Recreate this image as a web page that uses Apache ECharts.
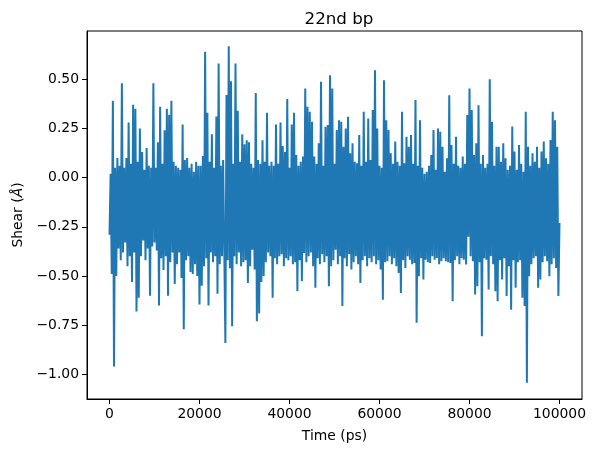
<!DOCTYPE html>
<html>
<head>
<meta charset="utf-8">
<script src="https://cdn.jsdelivr.net/npm/echarts@6/dist/echarts.min.js"></script>
<style>
  html, body { margin: 0; padding: 0; background: #fff; }
  #chart { width: 595px; height: 453px; }
</style>
</head>
<body>
<div id="chart"></div>
<script>
// shear of the 22nd base pair, one value every 250 ps, split per 10 ns
const dt = 250;
const shear00 = [-0.29, 0.02, -0.49, 0.39, -0.96, 0.05, -0.50, 0.10, -0.36, 0.06, -0.42, 0.48, -0.38, 0.05, -0.33, 0.10, -0.45, 0.28, -0.40, 0.07,
  -0.53, 0.37, -0.38, 0.35, -0.68, 0.08, -0.61, 0.25, -0.40, 0.13, -0.32, 0.04, -0.42, 0.15, -0.36, 0.06, -0.60, 0.05, -0.35, 0.48];
const shear10 = [-0.33, 0.05, -0.37, 0.18, -0.65, 0.36, -0.41, 0.07, -0.47, 0.24, -0.40, 0.35, -0.60, 0.32, -0.43, 0.39, -0.38, 0.08, -0.54, 0.06,
  -0.44, 0.05, -0.38, 0.04, -0.51, 0.27, -0.77, 0.09, -0.42, 0.10, -0.40, 0.05, -0.48, 0.07, -0.49, 0.03, -0.44, 0.08, -0.50, 0.06];
const shear20 = [-0.645, 0.06, -0.55, 0.11, -0.45, 0.64, -0.41, 0.33, -0.65, 0.08, -0.38, 0.22, -0.43, 0.05, -0.40, 0.31, -0.59, 0.58, -0.44, 0.06,
  -0.40, 0.09, -0.36, -0.84, 0.42, -0.42, 0.667, -0.46, 0.49, -0.755, 0.07, -0.40, 0.58, -0.44, 0.34, -0.38, 0.08, -0.45, 0.22, -0.43];
const shear30 = [0.17, -0.42, 0.19, -0.535, 0.18, -0.45, 0.07, -0.366, 0.05, -0.467, 0.43, -0.73, 0.09, -0.69, 0.07, -0.53, 0.19, -0.50, 0.08, -0.43,
  0.33, -0.38, 0.06, -0.40, 0.08, -0.61, 0.06, -0.41, 0.27, -0.44, 0.07, -0.40, 0.28, -0.39, 0.16, -0.45, 0.13, -0.41, 0.40, -0.42];
const shear40 = [0.05, -0.40, 0.27, -0.44, 0.33, -0.43, 0.115, -0.577, 0.06, -0.42, 0.08, -0.527, 0.107, -0.383, 0.453, -0.43, 0.36, -0.40, 0.335, -0.38,
  0.284, -0.45, 0.107, -0.56, 0.07, -0.41, 0.174, -0.44, 0.487, -0.39, 0.06, -0.43, 0.258, -0.40, 0.267, -0.552, 0.52, -0.451, 0.453, -0.42];
const shear50 = [0.07, -0.366, 0.242, -0.44, 0.292, -0.40, 0.284, -0.653, 0.157, -0.41, 0.25, -0.45, 0.309, -0.39, 0.124, -0.467, 0.174, -0.43, 0.08, -0.40,
  0.073, -0.44, 0.216, -0.535, 0.06, -0.42, 0.335, -0.40, 0.081, -0.45, 0.30, -0.41, 0.09, -0.43, 0.343, -0.40, 0.546, -0.44, 0.25, -0.42];
const shear60 = [0.06, -0.467, 0.05, -0.62, 0.495, -0.43, 0.292, -0.425, 0.242, -0.40, 0.124, -0.44, 0.07, -0.41, 0.183, -0.45, 0.08, -0.485, 0.06, -0.586,
  0.335, -0.42, 0.073, -0.459, 0.208, -0.40, 0.157, -0.417, 0.216, -0.44, 0.07, -0.434, 0.394, -0.738, 0.06, -0.501, 0.292, -0.41, 0.05, -0.518];
const shear70 = [0.02, -0.417, 0.03, -0.43, 0.06, -0.434, 0.115, -0.40, 0.242, -0.417, 0.04, -0.408, 0.25, -0.44, 0.233, -0.425, 0.157, -0.41, 0.03, -0.425,
  0.098, -0.43, 0.419, -0.434, 0.166, -0.628, 0.07, -0.42, 0.208, -0.40, 0.06, -0.44, 0.05, -0.41, 0.107, -0.417, 0.07, -0.442, 0.318, -0.30];
const shear80 = [0.453, -0.40, 0.343, -0.425, 0.115, -0.594, 0.174, -0.552, 0.368, -0.43, 0.07, -0.806, 0.115, -0.41, 0.05, -0.417, 0.07, -0.569, 0.50, -0.40,
  0.284, -0.44, 0.06, -0.577, 0.157, -0.628, 0.157, -0.42, 0.08, -0.518, 0.174, -0.41, 0.098, -0.602, 0.04, -0.45, 0.06, -0.671, 0.26, -0.42];
const shear90 = [0.132, -0.56, 0.04, -0.43, 0.166, -0.42, 0.07, -0.611, 0.03, -0.653, 0.335, -1.042, 0.157, -0.501, 0.06, -0.44, 0.124, -0.41, 0.08, -0.40,
  0.157, -0.56, 0.05, -0.518, 0.132, -0.43, 0.183, -0.40, 0.098, -0.425, 0.07, -0.501, 0.191, -0.44, 0.335, -0.41, 0.292, -0.459, 0.157, -0.602, -0.23];

const xTicks = [0, 20000, 40000, 60000, 80000, 100000];
const yTicks = [-1.0, -0.75, -0.5, -0.25, 0.0, 0.25, 0.5];

const shear = [].concat(shear00, shear10, shear20, shear30, shear40, shear50, shear60, shear70, shear80, shear90);
const points = shear.map((v, i) => [i * dt, v]);

const font = 'DejaVu Sans';
const chart = echarts.init(document.getElementById('chart'), null, { renderer: 'canvas' });
chart.setOption({
  animation: false,
  backgroundColor: '#fff',
  title: {
    text: '22nd bp',
    left: 334, top: 6, textAlign: 'center',
    textStyle: { fontFamily: font, fontSize: 16.7, fontWeight: 'normal', color: '#000' }
  },
  grid: {
    left: 87, right: 13, top: 31, bottom: 54,
    show: true, borderColor: '#000', borderWidth: 1, backgroundColor: 'transparent'
  },
  xAxis: {
    type: 'value', min: -5000, max: 105000,
    name: 'Time (ps)', nameLocation: 'middle', nameGap: 30,
    nameTextStyle: { fontFamily: font, fontSize: 13.9, color: '#000' },
    axisLine: { show: true, onZero: false, lineStyle: { color: '#000', width: 1 } },
    axisTick: { show: true, length: 5, customValues: xTicks, lineStyle: { color: '#000' } },
    axisLabel: {
      customValues: xTicks, margin: 8, fontFamily: font, fontSize: 13.9, color: '#000',
      formatter: v => String(v)
    },
    splitLine: { show: false }
  },
  yAxis: {
    type: 'value', min: -1.125, max: 0.745,
    name: 'Shear ({i|Å})', nameLocation: 'middle', nameGap: 58, nameRotate: 90,
    nameTextStyle: { fontFamily: font, fontSize: 13.9, color: '#000',
      rich: { i: { fontFamily: font, fontSize: 13.9, fontStyle: 'italic', color: '#000' } } },
    axisLine: { show: true, onZero: false, lineStyle: { color: '#000', width: 1 } },
    axisTick: { show: true, length: 5, customValues: yTicks, lineStyle: { color: '#000' } },
    axisLabel: {
      customValues: yTicks, margin: 8, fontFamily: font, fontSize: 13.9, color: '#000',
      formatter: v => v.toFixed(2).replace('-', '\u2212')
    },
    splitLine: { show: false }
  },
  series: [{
    type: 'line',
    data: points,
    showSymbol: false,
    lineStyle: { color: '#1f77b4', width: 2 },
    clip: true
  }]
});
</script>
</body>
</html>
